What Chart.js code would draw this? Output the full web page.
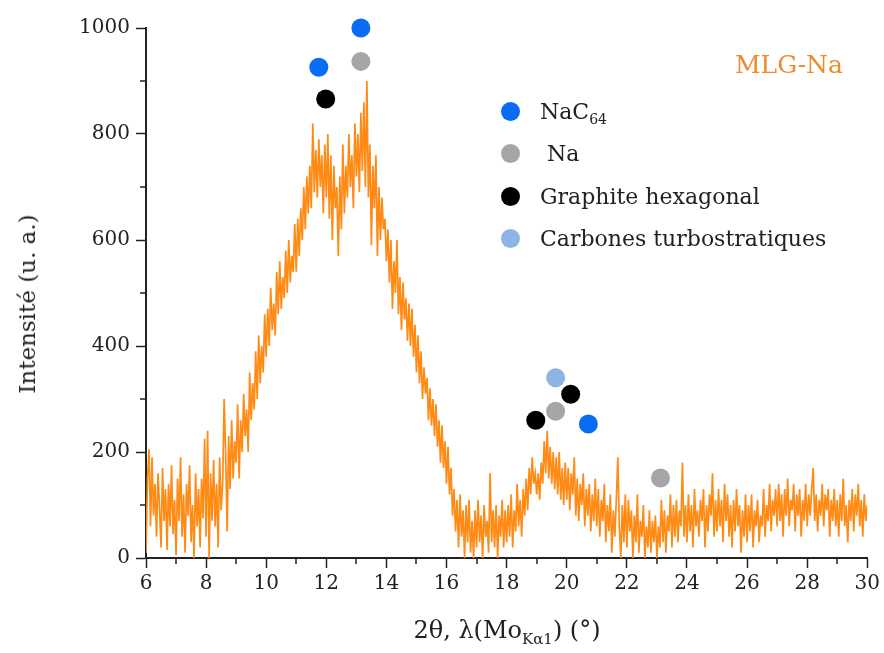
<!DOCTYPE html>
<html>
<head>
<meta charset="utf-8">
<script src="https://cdn.jsdelivr.net/npm/chart.js@4/dist/chart.umd.min.js"></script>
<style>
  body { margin: 0; background: #fff; }
  #cadre { position: relative; width: 884px; height: 653px; font-family: "DejaVu Serif", serif; color: #222; }
  #titreEchantillon { position: absolute; left: 735px; top: 50px; font-size: 25px; color: #ef8a2c; }
  .ligneLegende { position: absolute; left: 501px; height: 20px; font-size: 22px; line-height: 20px; white-space: nowrap; }
  .ligneLegende span.pastille { display: inline-block; width: 19px; height: 19px; border-radius: 50%; vertical-align: middle; margin-right: 20px; position: relative; top: -2px; }
  .ligneLegende sub { font-size: 14px; }
  #titreX sub { font-size: 15px; }
  #titreX { position: absolute; left: 0; width: 1014px; top: 616px; text-align: center; font-size: 24px; white-space: nowrap; }
  #titreY { position: absolute; left: 27px; top: 304px; font-size: 23px; white-space: nowrap; transform: translate(-50%, -50%) rotate(-90deg); }
</style>
</head>
<body>
<div id="cadre">
  <canvas id="graficoDrx" width="884" height="653"></canvas>
  <div id="titreEchantillon">MLG-Na</div>
  <div class="ligneLegende" style="top:102px"><span class="pastille" style="background:#0a6cf5"></span>NaC<sub>64</sub></div>
  <div class="ligneLegende" style="top:144px"><span class="pastille" style="background:#a6a6a6"></span>&nbsp;Na</div>
  <div class="ligneLegende" style="top:187px"><span class="pastille" style="background:#000"></span>Graphite hexagonal</div>
  <div class="ligneLegende" style="top:229px"><span class="pastille" style="background:#8eb4e3"></span>Carbones turbostratiques</div>
  <div id="titreX">2θ, λ(Mo<sub>Kα1</sub>) (°)</div>
  <div id="titreY">Intensité (u. a.)</div>
</div>
<script>
// diffractogramme, un point tous les 0.05°
const angleDebut = 6
const pasAngle = 0.05

const intensite06a10 = [
  10,150,205,60,190,80,140,40,160,95,20,170,70,130,15,140,60,175,45,110,
  5,150,70,190,40,120,10,140,80,175,30,100,0,160,60,130,20,150,75,225,
  40,240,0,160,70,185,60,140,20,190,90,140,300,200,50,230,130,260,150,220,
  180,290,150,260,200,310,230,280,200,350,260,330,280,390,300,420,330,400,350,460
]
const intensite10a14 = [
  380,470,400,510,430,480,420,540,460,560,470,530,490,580,500,600,520,570,540,630,
  540,640,570,660,600,700,620,720,650,740,660,820,690,770,680,790,700,760,650,780,
  680,800,640,760,600,740,660,700,570,720,620,780,650,740,680,800,700,760,660,820,
  720,800,690,840,730,860,700,900,680,780,590,740,660,760,570,700,600,680,620,640
]
const intensite14a18 = [
  560,620,520,600,470,560,500,600,460,530,430,520,450,490,410,480,400,470,380,440,
  350,420,330,390,300,360,310,340,260,320,250,300,230,290,210,260,180,250,170,220,
  140,210,120,170,80,130,50,110,20,120,40,90,0,100,30,110,10,70,0,90,
  20,110,30,80,0,100,40,70,10,160,30,90,20,100,0,80,40,110,20,90
]
const intensite18a22 = [
  30,100,40,120,20,90,50,140,60,110,40,130,80,150,90,170,120,190,140,160,
  120,160,110,180,140,220,160,240,150,210,140,200,130,190,120,200,110,170,100,180,
  110,170,90,160,120,190,80,150,70,140,100,160,60,130,80,140,50,120,70,150,
  60,130,40,110,70,140,30,100,50,120,10,90,40,110,190,60,0,100,30,120
]
const intensite22a26 = [
  20,110,50,90,0,80,30,120,10,70,40,100,0,60,20,90,10,70,30,80,
  0,60,20,110,30,90,10,80,50,120,20,100,40,110,30,90,60,180,40,100,
  30,120,50,100,20,130,60,90,40,110,70,130,20,100,50,120,80,160,40,110,
  50,130,60,110,30,140,70,120,40,100,20,110,50,130,60,100,10,90,40,120
]
const intensite26a30 = [
  30,100,50,120,20,90,60,110,30,80,60,130,40,100,70,140,50,110,80,130,
  60,140,70,120,40,130,80,150,60,110,90,140,50,120,80,130,40,110,70,140,
  60,120,80,130,170,70,120,50,110,80,140,60,120,90,130,40,110,70,130,60,
  110,40,120,70,150,60,100,30,110,70,130,50,120,80,140,60,110,40,120,70,
  100
]

// positions des pics indexes (angle, hauteur du marqueur)
const anglesNaC64 = [11.75, 13.15, 20.72]
const hauteursNaC64 = [926, 1000, 253]
const anglesNa = [13.15, 19.63, 23.12]
const hauteursNa = [937, 277, 151]
const anglesGraphite = [11.98, 18.97, 20.13]
const hauteursGraphite = [866, 260, 309]
const anglesTurbo = [19.63]
const hauteursTurbo = [340]

const ticksX = [6, 8, 10, 12, 14, 16, 18, 20, 22, 24, 26, 28, 30]
const ticksY = [0, 200, 400, 600, 800, 1000]

const intensite = [].concat(intensite06a10, intensite10a14, intensite14a18,
  intensite18a22, intensite22a26, intensite26a30)
const spectre = intensite.map((v, i) => ({ x: +(angleDebut + i * pasAngle).toFixed(2), y: v }))

function pointsDe(angles, hauteurs) {
  return angles.map((a, i) => ({ x: a, y: hauteurs[i] }))
}

function marqueurs(label, angles, hauteurs, couleur) {
  return {
    type: 'scatter',
    label: label,
    data: pointsDe(angles, hauteurs),
    backgroundColor: couleur,
    borderColor: couleur,
    pointRadius: 9.5,
    borderWidth: 0,
    clip: false,
    order: 1
  }
}

// petites graduations intermediaires
const graduationsMineures = {
  id: 'graduationsMineures',
  afterDraw(chart) {
    const { ctx, chartArea, scales: { x, y } } = chart
    ctx.save()
    ctx.strokeStyle = '#222'
    ctx.lineWidth = 1.5
    ctx.beginPath()
    for (let v = 7; v < 30; v += 2) {
      const px = Math.round(x.getPixelForValue(v))
      ctx.moveTo(px, chartArea.bottom)
      ctx.lineTo(px, chartArea.bottom + 6)
    }
    for (let v = 100; v < 1000; v += 200) {
      const py = Math.round(y.getPixelForValue(v))
      ctx.moveTo(chartArea.left - 6, py)
      ctx.lineTo(chartArea.left, py)
    }
    ctx.stroke()
    ctx.restore()
  }
}

const police = { family: 'DejaVu Serif', size: 20 }

const graficoDrx = new Chart(document.getElementById('graficoDrx'), {
  type: 'line',
  data: {
    datasets: [
      {
        label: 'MLG-Na',
        data: spectre,
        borderColor: '#ff8a14',
        borderWidth: 1.7,
        pointRadius: 0,
        tension: 0,
        order: 2
      },
      marqueurs('NaC64', anglesNaC64, hauteursNaC64, '#0a6cf5'),
      marqueurs('Na', anglesNa, hauteursNa, '#a6a6a6'),
      marqueurs('Graphite hexagonal', anglesGraphite, hauteursGraphite, '#000000'),
      marqueurs('Carbones turbostratiques', anglesTurbo, hauteursTurbo, '#8eb4e3')
    ]
  },
  options: {
    responsive: false,
    animation: false,
    devicePixelRatio: 1,
    layout: { padding: { top: 28, right: 16, bottom: 0, left: 0 } },
    plugins: { legend: { display: false }, tooltip: { enabled: false } },
    scales: {
      x: {
        type: 'linear',
        min: 6,
        max: 30,
        afterBuildTicks: s => { s.ticks = ticksX.map(v => ({ value: v })) },
        afterFit: s => { s.height = 95 },
        ticks: { font: police, color: '#222', padding: 4, maxRotation: 0, callback: v => String(v) },
        grid: { drawOnChartArea: false, tickLength: 10, tickColor: '#222', tickWidth: 1.5 },
        border: { color: '#222', width: 2 }
      },
      y: {
        min: 0,
        max: 1000,
        afterBuildTicks: s => { s.ticks = ticksY.map(v => ({ value: v })) },
        afterFit: s => { s.width = 146 },
        ticks: { font: police, color: '#222', padding: 6, callback: v => String(v) },
        grid: { drawOnChartArea: false, tickLength: 10, tickColor: '#222', tickWidth: 1.5 },
        border: { color: '#222', width: 2 }
      }
    }
  },
  plugins: [graduationsMineures]
})
</script>
</body>
</html>
